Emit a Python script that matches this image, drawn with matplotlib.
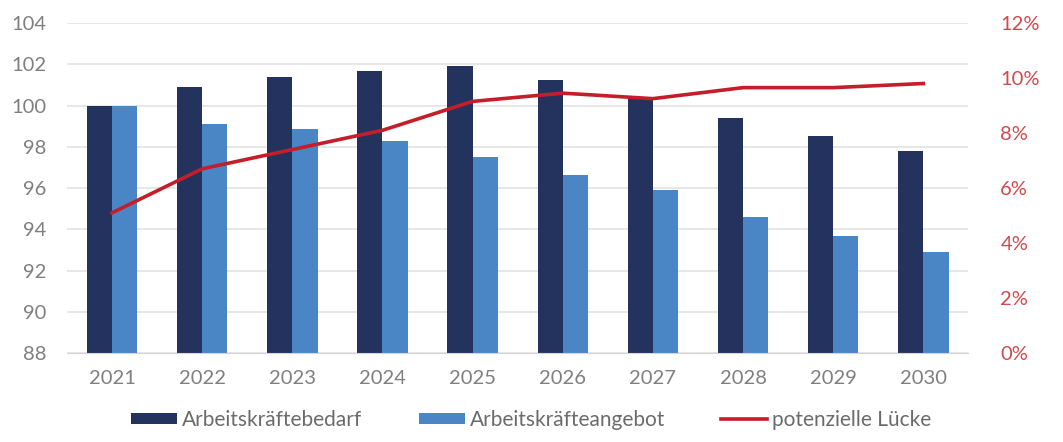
import numpy as np
import matplotlib.pyplot as plt
from matplotlib.ticker import PercentFormatter

years = ['2021', '2022', '2023', '2024', '2025', '2026', '2027', '2028', '2029', '2030']
bedarf = [100.0, 100.9, 101.4, 101.65, 101.9, 101.25, 100.35, 99.4, 98.5, 97.8]
angebot = [100.0, 99.1, 98.85, 98.3, 97.5, 96.65, 95.9, 94.6, 93.7, 92.9]
luecke = [5.1, 6.7, 7.4, 8.1, 9.15, 9.45, 9.25, 9.65, 9.65, 9.8]

plt.rcParams['font.family'] = ['Lato', 'DejaVu Sans']

navy = '#24335e'
light = '#4a86c5'
red = '#c41e2a'
grey = '#7f7f7f'

fig = plt.figure(figsize=(10.63, 4.42), dpi=100)
ax = fig.add_axes([0.063, 0.201, 0.848, 0.747])

x = np.arange(len(years))
w = 0.28
ax.bar(x - w / 2, bedarf, width=w, color=navy, label='Arbeitskräftebedarf', zorder=2)
ax.bar(x + w / 2, angebot, width=w, color=light, label='Arbeitskräfteangebot', zorder=2)

ax.set_ylim(88, 104)
ax.set_yticks(range(88, 105, 2))
ax.set_xlim(-0.5, 9.5)
ax.set_xticks(x)
ax.set_xticklabels(years)
ax.grid(axis='y', color='#e3e3e3', linewidth=1.2, zorder=0)
ax.set_axisbelow(True)
for s in ['top', 'right', 'left']:
    ax.spines[s].set_visible(False)
ax.spines['bottom'].set_color('#d4d4d4')
ax.tick_params(axis='both', length=0, labelsize=14.5, colors=grey)
ax.tick_params(axis='y', pad=15)
ax.tick_params(axis='x', pad=12)

ax2 = ax.twinx()
ax2.plot(x, luecke, color=red, linewidth=2.6, label='potenzielle Lücke', zorder=3)
ax2.set_ylim(0, 12)
ax2.set_yticks(range(0, 13, 2))
ax2.yaxis.set_major_formatter(PercentFormatter(decimals=0))
for s in ax2.spines.values():
    s.set_visible(False)
ax2.tick_params(axis='y', length=0, labelsize=14.5, colors='#d2484c', pad=23)

h1, l1 = ax.get_legend_handles_labels()
h2, l2 = ax2.get_legend_handles_labels()
fig.legend(h1 + h2, l1 + l2, loc='center', bbox_to_anchor=(0.5, 0.05), ncol=3,
           frameon=False, fontsize=15, labelcolor='#6b6b6b', handlelength=2.2,
           handleheight=0.5, handletextpad=0.25, columnspacing=2.7)

fig.savefig('out.png', dpi=100)
